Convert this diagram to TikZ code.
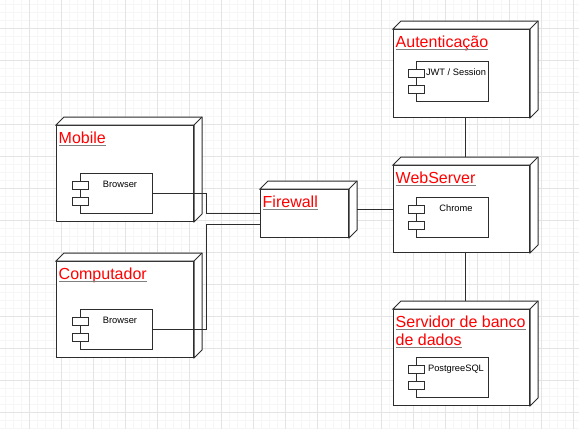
\documentclass[tikz,border=0pt]{standalone}
\usepackage{fontspec}
\setmainfont{Liberation Sans}
\usetikzlibrary{
    calc,
    positioning
}

\definecolor{gridminor}{RGB}{246,246,246}
\definecolor{gridmajor}{RGB}{228,228,228}
\definecolor{edgegray}{RGB}{45,45,45}
\definecolor{linkred}{RGB}{255,0,0}

\tikzset{
    devnode/.style={draw=edgegray, fill=white, line width=1pt, inner sep=0pt, anchor=north west},
    devlabel/.style={text=linkred, font=\fontsize{16}{18}\selectfont, inner sep=0pt, anchor=base west},
    uline/.style={draw=gray, line width=1pt},
    compbox/.style={draw=edgegray, fill=white, line width=1pt, inner sep=0pt, anchor=north west,
                    minimum width=72pt, minimum height=40pt},
    compline/.style={draw=edgegray, fill=white, line width=1pt},
    comptext/.style={font=\fontsize{9.3}{11}\selectfont, inner sep=0pt, anchor=base},
    wire/.style={draw=edgegray, line width=1pt}
}

\newcommand{\devdepth}[1]{%
    \filldraw[compline] (#1.north west) -- ++(8,-8) -- ($(#1.north east)+(8,-8)$)
        -- ($(#1.south east)+(8,-8)$) -- (#1.south east) -- (#1.north east) -- cycle;
    \draw[compline] (#1.north east) -- ++(8,-8);
}
\newcommand{\devtitle}[4]{%
    \node[devlabel] (#1) at (#2,#3) {#4};
    \draw[uline] ([yshift=-2.5pt]#1.base west) -- ([yshift=-2.5pt]#1.base east);
}
\newcommand{\umlcomp}[4]{%
    \node[compbox] (#1) at (#2,#3) {};
    \draw[compline] ($(#1.north west)+(-8,8)$) rectangle ++(16,8)
                    ($(#1.north west)+(-8,24)$) rectangle ++(16,8);
    \node[comptext] (#1txt) at ($(#1.north west)+(40,14.5)$) {#4};
}

\begin{document}
\begin{tikzpicture}[x=1pt, y=-1pt]
    \useasboundingbox (0,0) rectangle (579,429);
    \fill[white] (0,0) rectangle (579,429);
    \foreach \gx in {5.3,13.3,...,579} \draw[gridminor, line width=1pt] (\gx,0) -- (\gx,429);
    \foreach \gy in {4.3,12.3,...,429} \draw[gridminor, line width=1pt] (0,\gy) -- (579,\gy);
    \foreach \gx in {29.3,61.3,...,579} \draw[gridmajor, line width=1pt] (\gx,0) -- (\gx,429);
    \foreach \gy in {28.3,60.3,...,429} \draw[gridmajor, line width=1pt] (0,\gy) -- (579,\gy);

    \node[devnode, minimum width=137pt, minimum height=96pt] (mobile) at (56,125) {};
    \devdepth{mobile}
    \devtitle{mobilelbl}{58.5}{143}{Mobile}
    \umlcomp{mobbrowser}{80}{173}{Browser}

    \node[devnode, minimum width=137pt, minimum height=96pt] (computador) at (56,261) {};
    \devdepth{computador}
    \devtitle{computadorlbl}{58.5}{279}{Computador}
    \umlcomp{compbrowser}{80}{309}{Browser}

    \node[devnode, minimum width=88pt, minimum height=48pt] (firewall) at (260,189) {};
    \devdepth{firewall}
    \devtitle{firewalllbl}{262.5}{207}{Firewall}

    \node[devnode, minimum width=136pt, minimum height=88pt] (auth) at (393,29) {};
    \devdepth{auth}
    \devtitle{authlbl}{395.5}{47}{Autenticação}
    \umlcomp{jwt}{416}{61}{JWT / Session}

    \node[devnode, minimum width=136pt, minimum height=87pt] (webserver) at (393,165) {};
    \devdepth{webserver}
    \devtitle{weblbl}{395.5}{183}{WebServer}
    \umlcomp{chrome}{416}{197}{Chrome}

    \node[devnode, minimum width=136pt, minimum height=96pt] (dbserver) at (393,309) {};
    \devdepth{dbserver}
    \devtitle{dblbla}{395.5}{327}{Servidor de banco}
    \devtitle{dblblb}{395.5}{345}{de dados}
    \umlcomp{postgres}{416}{357}{PostgreeSQL}

    \coordinate (mobjoint) at (206,213);
    \coordinate (compjoint) at (206,224);
    \draw[wire] (mobbrowser.east) -| (mobjoint) -- (mobjoint -| firewall.west);
    \draw[wire] (compbrowser.east) -| (compjoint) -- (compjoint -| firewall.west);
    \draw[wire] (webserver.west) -- ([xshift=8pt]firewall.east |- webserver.west);
    \draw[wire] ([xshift=4pt]auth.south) -- ([shift={(4pt,8pt)}]webserver.north);
    \draw[wire] ([xshift=4pt]webserver.south) -- ([shift={(4pt,8pt)}]dbserver.north);
\end{tikzpicture}
\end{document}
